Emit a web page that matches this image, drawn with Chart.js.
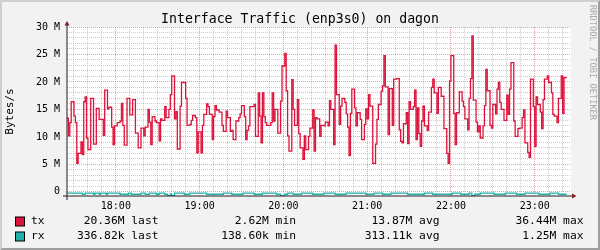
<!DOCTYPE html>
<html>
<head>
<meta charset="utf-8">
<script src="https://cdn.jsdelivr.net/npm/chart.js@4.4.1/dist/chart.umd.min.js"></script>
<style>
  html, body { margin: 0; padding: 0; background: #f2f2f2; }
  canvas { display: block; }
</style>
</head>
<body>
<canvas id="traffic" width="600" height="250"></canvas>
<script>
// minutes after 17:25 where each step starts, value in M bytes/s
var txTime = [0,1,2,3,5,6,7,8,10,11,12,13,14,15,17,19,21,23,26,27,29,30,32,33,34,36,38,39,40,41,43,45,47,49,51,53,55,56,58,59,60,
  61,63,64,66,67,68,70,71,73,74,75,77,78,79,81,82,85,86,88,89,90,92,93,94,96,97,98,100,101,102,104,105,106,107,109,111,112,114,115,117,
  118,119,121,123,124,125,127,128,129,130,131,134,135,137,138,139,140,141,142,143,146,147,148,149,151,153,154,156,157,158,159,161,162,163,165,166,167,169,170,171,173,174,176,177,
  178,179,181,182,184,185,187,188,189,191,192,193,195,196,197,199,200,201,202,203,204,206,207,208,210,211,213,214,215,216,217,219,221,222,223,225,226,227,228,230,231,233,234,236,238,
  239,240,241,243,244,245,246,248,249,250,251,252,253,254,255,256,258,259,261,262,263,265,266,268,270,272,273,274,275,277,278,279,281,283,284,285,287,288,289,290,291,293,294,295,296,298,
  299,300,301,303,304,305,307,308,309,310,311,313,315,316,317,318,320,321,323,324,326,327,328,330,331,332,334,335,336,337,339,340,341,342,344,345,347,348,349,351,352,354,355,356];
var txVal = [13.4,10.2,12.6,16.4,13.8,12.6,5.2,7.0,9.1,6.8,16.4,17.3,9.8,7.7,17.0,8.7,15.2,13.2,10.3,18.5,15.1,15.4,11.8,8.6,12.0,12.6,12.9,16.1,12.1,8.5,17.0,14.0,16.8,10.7,8.0,11.6,10.2,11.8,15.0,12.7,8.6,
  13.7,12.9,12.6,9.3,13.3,13.0,15.5,13.5,15.0,17.7,21.1,13.3,14.6,7.8,15.6,19.9,17.0,12.1,12.3,13.0,13.9,13.5,7.1,10.9,7.1,12.1,14.1,16.0,15.5,14.1,9.5,13.7,15.7,14.9,14.5,12.1,11.0,14.7,13.5,11.0,
  11.2,9.5,12.9,13.5,14.2,15.7,13.7,9.5,11.2,12.0,15.5,15.9,10.1,18.0,13.8,8.9,18.0,13.7,12.6,12.1,12.6,18.0,12.9,15.0,10.7,16.5,22.9,25.2,18.4,10.2,7.4,20.4,15.0,12.1,16.8,10.6,8.0,5.9,10.2,7.7,10.1,11.6,14.9,7.4,
  13.5,13.3,10.1,12.1,12.0,12.7,12.0,16.6,15.0,8.6,26.7,17.7,12.3,15.6,17.0,16.3,14.2,11.8,6.6,14.3,18.7,15.3,12.0,14.4,13.2,9.5,12.3,15.1,13.3,17.7,15.6,5.2,8.7,13.2,15.9,18.3,19.3,24.8,19.1,10.4,18.8,12.1,20.5,20.6,11.3,
  9.2,8.9,12.4,14.4,8.8,16.4,15.0,15.5,18.5,9.5,15.3,10.6,8.3,12.9,15.6,12.0,11.2,14.5,19.0,20.5,18.0,14.3,19.0,17.4,11.5,7.0,5.2,20.2,24.8,14.3,8.6,14.4,18.2,16.5,15.5,13.3,11.3,17.0,20.6,28.4,16.7,12.7,10.9,12.0,9.8,12.0,
  15.7,22.3,18.4,12.1,11.6,15.9,14.2,18.7,19.9,16.3,15.0,13.0,17.6,14.1,18.7,23.5,12.9,10.1,11.5,11.6,13.5,14.9,8.9,7.2,6.3,20.5,15.5,8.3,17.3,15.9,14.5,11.5,16.8,20.5,21.1,19.9,18.0,14.1,13.8,12.6,17.0,21.1,14.3,20.8];

// rx is drawn below the zero line
var rxTime = [0,11,13,19,20,23,24,28,29,38,44,46,53,56,59,64,66,70,72,74,75,77,84,88,100,112,118,126,134,140,
  150,153,156,158,162,168,176,184,192,200,214,220,226,232,244,256,262,276,282,288,290,292,296,306,314,322,328,338,346,352];
var rxVal = [0.24,0.43,0.24,0.43,0.24,0.43,0.24,0.43,0.24,0.43,0.24,0.43,0.24,0.43,0.24,0.43,0.24,0.43,0.7,0.43,
  0.7,0.24,0.43,0.24,0.43,0.24,0.43,0.24,0.43,0.24,0.43,0.7,0.43,0.24,0.43,0.24,0.43,0.24,0.43,0.24,
  0.43,0.24,0.43,0.24,0.43,0.24,0.43,0.24,0.43,0.24,0.7,0.43,0.24,0.43,0.24,0.43,0.24,0.43,0.24,0.43];
var lastTime = 358;

var startMinute = 17 * 60 + 25;
var hourTicks = [35, 95, 155, 215, 275, 335];
var minorTicks = [];
for (var m = 5; m <= 355; m += 10) minorTicks.push(m);
var yTicks = [];
for (var v = 0; v <= 30; v++) yTicks.push(v);

var legendNames = ['tx', 'rx'];
var legendColors = ['#dc143c', '#20b2aa'];
var legendLast = ['20.36M last', '336.82k last'];
var legendMin = ['2.62M min', '138.60k min'];
var legendAvg = ['13.87M avg', '313.11k avg'];
var legendMax = ['36.44M max', '1.25M max'];

function steps(times, vals, sign) {
  var pts = times.map(function (t, i) { return { x: t, y: sign * vals[i] }; });
  pts.push({ x: lastTime, y: sign * vals[vals.length - 1] });
  return pts;
}

function hhmm(m) {
  var t = startMinute + m;
  var h = Math.floor(t / 60) % 24, mm = t % 60;
  return (h < 10 ? '0' : '') + h + ':' + (mm < 10 ? '0' : '') + mm;
}

var mono = "'DejaVu Sans Mono', monospace";

var rrdFrame = {
  id: 'rrdFrame',
  beforeDraw: function (chart) {
    var c = chart.ctx, a = chart.chartArea, W = chart.width, H = chart.height;
    c.save();
    c.fillStyle = '#f2f2f2';
    c.fillRect(0, 0, W, H);
    c.fillStyle = '#cfcfcf';
    c.beginPath();
    c.moveTo(0, 0); c.lineTo(W, 0); c.lineTo(W - 2, 2); c.lineTo(2, 2); c.lineTo(2, H - 2); c.lineTo(0, H);
    c.fill();
    c.fillStyle = '#9e9e9e';
    c.beginPath();
    c.moveTo(0, H); c.lineTo(W, H); c.lineTo(W, 0); c.lineTo(W - 2, 2); c.lineTo(W - 2, H - 2); c.lineTo(2, H - 2);
    c.fill();
    c.fillStyle = '#ffffff';
    c.fillRect(a.left, a.top, a.right - a.left, a.bottom - a.top);
    c.restore();
  },
  afterDraw: function (chart) {
    var c = chart.ctx, a = chart.chartArea;
    c.save();
    // axes
    c.strokeStyle = '#1f1f1f';
    c.lineWidth = 1;
    c.beginPath();
    c.moveTo(a.left - 4, a.bottom); c.lineTo(a.right + 1, a.bottom);
    c.moveTo(a.left, a.bottom + 4); c.lineTo(a.left, a.top - 2);
    c.stroke();
    c.fillStyle = '#801f1f';
    c.beginPath();
    c.moveTo(a.right + 1, a.bottom - 2.5); c.lineTo(a.right + 5.5, a.bottom); c.lineTo(a.right + 1, a.bottom + 2.5);
    c.fill();
    c.beginPath();
    c.moveTo(a.left - 2.5, a.top - 1.5); c.lineTo(a.left, a.top - 6); c.lineTo(a.left + 2.5, a.top - 1.5);
    c.fill();

    // legend
    c.font = '11.3px ' + mono;
    c.textBaseline = 'middle';
    var rows = [221.5, 236.5];
    for (var i = 0; i < 2; i++) {
      var y = rows[i];
      c.fillStyle = legendColors[i];
      c.fillRect(15.5, y - 4.5, 9, 9);
      c.strokeStyle = '#000';
      c.strokeRect(15.5, y - 4.5, 9, 9);
      c.fillStyle = '#000';
      c.textAlign = 'left';
      c.fillText(legendNames[i], 31, y);
      c.textAlign = 'right';
      c.fillText(legendLast[i], 158.5, y);
      c.fillText(legendMin[i], 296, y);
      c.fillText(legendAvg[i], 439.5, y);
      c.fillText(legendMax[i], 583.5, y);
    }

    // watermark
    c.translate(592, 5);
    c.rotate(Math.PI / 2);
    c.font = '8.7px ' + mono;
    c.fillStyle = '#aaaaaa';
    c.textAlign = 'left';
    c.fillText('RRDTOOL / TOBI OETIKER', 0, 0);
    c.restore();
  }
};

new Chart(document.getElementById('traffic').getContext('2d'), {
  type: 'line',
  data: {
    datasets: [{
      label: 'tx',
      data: steps(txTime, txVal, 1),
      borderColor: legendColors[0],
      borderWidth: 1.3,
      pointRadius: 0,
      stepped: true,
      fill: false
    }, {
      label: 'rx',
      data: steps(rxTime, rxVal, -1),
      borderColor: legendColors[1],
      borderWidth: 1.3,
      pointRadius: 0,
      stepped: true,
      fill: false
    }]
  },
  options: {
    responsive: false,
    animation: false,
    events: [],
    layout: { padding: 0 },
    plugins: {
      legend: { display: false },
      tooltip: { enabled: false },
      title: {
        display: true,
        text: 'Interface Traffic (enp3s0) on dagon',
        color: '#000',
        font: { family: mono, size: 13.2, weight: 'normal', lineHeight: '15px' },
        padding: { top: 12, bottom: 0 }
      }
    },
    scales: {
      x: {
        type: 'linear',
        min: 0,
        max: 361,
        afterBuildTicks: function (s) { s.ticks = minorTicks.map(function (t) { return { value: t }; }); },
        afterFit: function (s) { s.height = 54; },
        border: { display: false, dash: [1, 1] },
        grid: {
          drawTicks: false,
          lineWidth: 1,
          color: function (ctx) {
            return hourTicks.indexOf(ctx.tick.value) >= 0 ? 'rgba(222,79,79,0.55)' : 'rgba(143,143,143,0.45)';
          }
        },
        ticks: {
          autoSkip: false,
          maxRotation: 0,
          padding: 4,
          color: '#000',
          font: { family: mono, size: 10 },
          callback: function (val) { return hourTicks.indexOf(val) >= 0 ? hhmm(val) : ''; }
        }
      },
      y: {
        type: 'linear',
        position: 'left',
        min: -0.75,
        max: 30,
        afterBuildTicks: function (s) { s.ticks = yTicks.map(function (t) { return { value: t }; }); },
        afterFit: function (s) { s.width = 67; },
        border: { display: false, dash: [1, 1] },
        grid: {
          drawTicks: false,
          lineWidth: 1,
          color: function (ctx) {
            return ctx.tick.value % 5 === 0 ? 'rgba(222,79,79,0.55)' : 'rgba(143,143,143,0.45)';
          }
        },
        ticks: {
          autoSkip: false,
          padding: 7,
          color: '#000',
          font: { family: mono, size: 10 },
          callback: function (val) {
            if (val % 5 !== 0) return '';
            return val === 0 ? '0' : val + ' M';
          }
        },
        title: {
          display: true,
          text: 'Bytes/s',
          color: '#000',
          font: { family: mono, size: 11 },
          padding: { top: 4, bottom: 0 }
        }
      },
      yRight: {
        type: 'linear',
        position: 'right',
        afterFit: function (s) { s.width = 29; },
        border: { display: false },
        grid: { display: false },
        ticks: { display: false }
      }
    }
  },
  plugins: [rrdFrame]
});
</script>
</body>
</html>
